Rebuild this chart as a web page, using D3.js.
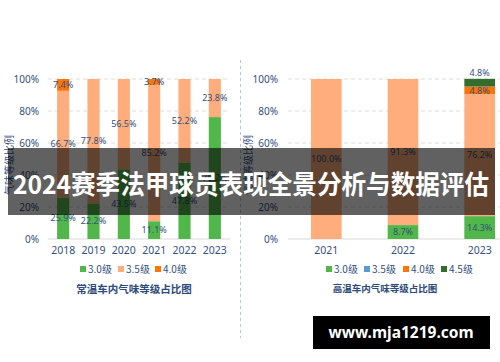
<!DOCTYPE html>
<html><head><meta charset="utf-8">
<script src="https://cdn.jsdelivr.net/npm/d3@7"></script>
<style>html,body{margin:0;padding:0;background:#fff;}svg{display:block;font-family:"Noto Sans CJK SC","Noto Sans",sans-serif;}</style>
</head><body>
<svg id="c" width="500" height="362"></svg>
<script>
// ---- Data ----
const leftYears = ["2018","2019","2020","2021","2022","2023"];
const leftSeries = ["3.0级","3.5级","4.0级"];
const left30 = [25.9, 22.2, 43.5, 11.1, 47.8, 76.2];
const left35 = [66.7, 77.8, 56.5, 85.2, 52.2, 23.8];
const left40 = [7.4, 0, 0, 3.7, 0, 0];
const leftTitle = "常温车内气味等级占比图";

const rightYears = ["2021","2022","2023"];
const rightSeries = ["3.0级","3.5级","4.0级","4.5级"];
const right30 = [0, 8.7, 14.3];
const right35 = [100.0, 91.3, 76.2];
const right40 = [0, 0, 4.8];
const right45 = [0, 0, 4.8];
const rightTitle = "高温车内气味等级占比图";

const yTicks = [0, 20, 40, 60, 80, 100];
const yTitle = "气味等级比例";
const bannerText = "2024赛季法甲球员表现全景分析与数据评估";
const watermark = "www.mja1219.com";

const C_GREEN = "#52b74a", C_PEACH = "#ffad7c", C_ORANGE = "#fb7508", C_DGREEN = "#356e2c", C_BLUE = "#5b9bd5";
const TXT = "#34507f";

const svg = d3.select("#c");

function drawChart(cfg) {
  const g = svg.append("g");
  const x = d3.scaleBand().domain(cfg.cats).range(cfg.xr).paddingInner(0.6).paddingOuter(0.3);
  const y = d3.scaleLinear().domain([0, 100]).range([239, 79]);
  // grid
  g.selectAll("line.grid").data(yTicks.filter(d => d > 0)).join("line")
    .attr("x1", cfg.xr[0]).attr("x2", cfg.gridEnd)
    .attr("y1", d => y(d)).attr("y2", d => y(d))
    .attr("stroke", "#dcdcdc").attr("stroke-dasharray", "4,3").attr("stroke-width", 1);
  // baseline
  g.append("line").attr("x1", cfg.xr[0]).attr("x2", cfg.gridEnd).attr("y1", y(0)).attr("y2", y(0))
    .attr("stroke", "#d9d9d9").attr("stroke-width", 1);
  // y axis labels
  const ya = d3.axisLeft(y).tickValues(yTicks).tickFormat(d => d + "%").tickSize(0).tickPadding(0);
  const yg = g.append("g").attr("transform", `translate(${cfg.yLabX},0)`).call(ya);
  yg.select(".domain").remove();
  yg.selectAll("text").attr("fill", TXT).attr("font-size", 10).attr("font-family", "Noto Sans, sans-serif");
  // x axis labels
  const xa = d3.axisBottom(x).tickSize(0).tickPadding(0);
  const xg = g.append("g").attr("transform", `translate(0,${247})`).call(xa);
  xg.select(".domain").remove();
  xg.selectAll("text").attr("fill", TXT).attr("font-size", 10.5).attr("font-family", "Noto Sans, sans-serif");
  // stacked bars
  const rows = cfg.cats.map((c, i) => {
    const r = {cat: c};
    cfg.keys.forEach((k, j) => r[k] = cfg.vals[j][i]);
    return r;
  });
  const stack = d3.stack().keys(cfg.keys)(rows);
  stack.forEach((layer, j) => {
    g.selectAll(null).data(layer.filter(d => d[1] - d[0] > 0)).join("rect")
      .attr("x", d => x(d.data.cat)).attr("width", x.bandwidth())
      .attr("y", d => y(d[1])).attr("height", d => y(d[0]) - y(d[1]))
      .attr("fill", cfg.colors[j]);
  });
  stack.forEach((layer, j) => {
    g.selectAll(null).data(layer.filter(d => d[1] - d[0] > 0)).join("text")
      .attr("x", d => x(d.data.cat) + x.bandwidth() / 2)
      .attr("y", d => (cfg.outside[j] ? y(d[1]) - 6 : y((d[0] + d[1]) / 2)))
      .attr("dy", "0.35em").attr("text-anchor", "middle")
      .attr("font-size", cfg.labelSize).attr("fill", TXT).attr("font-family", "Noto Sans, sans-serif")
      .text(d => (d[1] - d[0]).toFixed(1) + "%");
  });
  // y title
  g.append("text").attr("transform", `translate(${cfg.yTitleX},135) rotate(-90)`)
    .attr("text-anchor", "end").attr("dy", "0.35em").attr("font-size", 10).attr("fill", TXT).text(yTitle);
  // legend
  cfg.keys.forEach((k, j) => {
    const lx = cfg.legX[j];
    g.append("rect").attr("x", lx - 3).attr("y", 266).attr("width", 6).attr("height", 6).attr("fill", cfg.legColors[j]);
    g.append("text").attr("x", lx + 5).attr("y", 269).attr("dy", "0.35em").attr("font-size", 10)
      .attr("fill", TXT).text(k);
  });
  // title
  g.append("text").attr("x", cfg.titleX).attr("y", 289).attr("dy", "0.35em").attr("text-anchor", "middle")
    .attr("font-size", cfg.titleSize).attr("font-weight", "bold").attr("fill", "#2d4a7a").text(cfg.title);
}

drawChart({
  cats: leftYears, keys: leftSeries, vals: [left30, left35, left40],
  colors: [C_GREEN, C_PEACH, C_ORANGE], legColors: [C_GREEN, C_PEACH, C_ORANGE],
  outside: [false, false, false],
  xr: [48, 230], gridEnd: 230, yLabX: 39, yTitleX: 9, labelSize: 9,
  legX: [83, 121, 158], titleX: 134, titleSize: 10.5, title: leftTitle
});
drawChart({
  cats: rightYears, keys: rightSeries, vals: [right30, right35, right40, right45],
  colors: [C_GREEN, C_PEACH, C_ORANGE, C_DGREEN], legColors: [C_GREEN, C_BLUE, C_ORANGE, C_DGREEN],
  outside: [false, false, false, true],
  xr: [288, 518], gridEnd: 500, yLabX: 278, yTitleX: 248, labelSize: 9,
  legX: [329, 367, 406, 444], titleX: 385, titleSize: 9.5, title: rightTitle
});

// separator
svg.append("line").attr("x1", 240.5).attr("x2", 240.5).attr("y1", 60).attr("y2", 338)
  .attr("stroke", "#a9cbe8").attr("stroke-dasharray", "3,3").attr("stroke-width", 1);

// banner overlay
svg.append("rect").attr("x", 8).attr("y", 148).attr("width", 487).attr("height", 67).attr("fill", "rgba(0,0,0,0.62)");
svg.append("text").attr("x", 251).attr("y", 194).attr("text-anchor", "middle")
  .attr("font-size", 26).attr("font-weight", "bold").attr("fill", "#fff")
  .attr("textLength", 476).attr("lengthAdjust", "spacingAndGlyphs").text(bannerText);

// watermark
svg.append("rect").attr("x", 313).attr("y", 316).attr("width", 177).attr("height", 33).attr("fill", "#000");
svg.append("text").attr("x", 401).attr("y", 333).attr("dy", "0.35em").attr("text-anchor", "middle")
  .attr("font-size", 15.5).attr("font-weight", "bold").attr("fill", "#fff")
  .attr("font-family", "Noto Sans, sans-serif").text(watermark);
</script>
</body></html>
